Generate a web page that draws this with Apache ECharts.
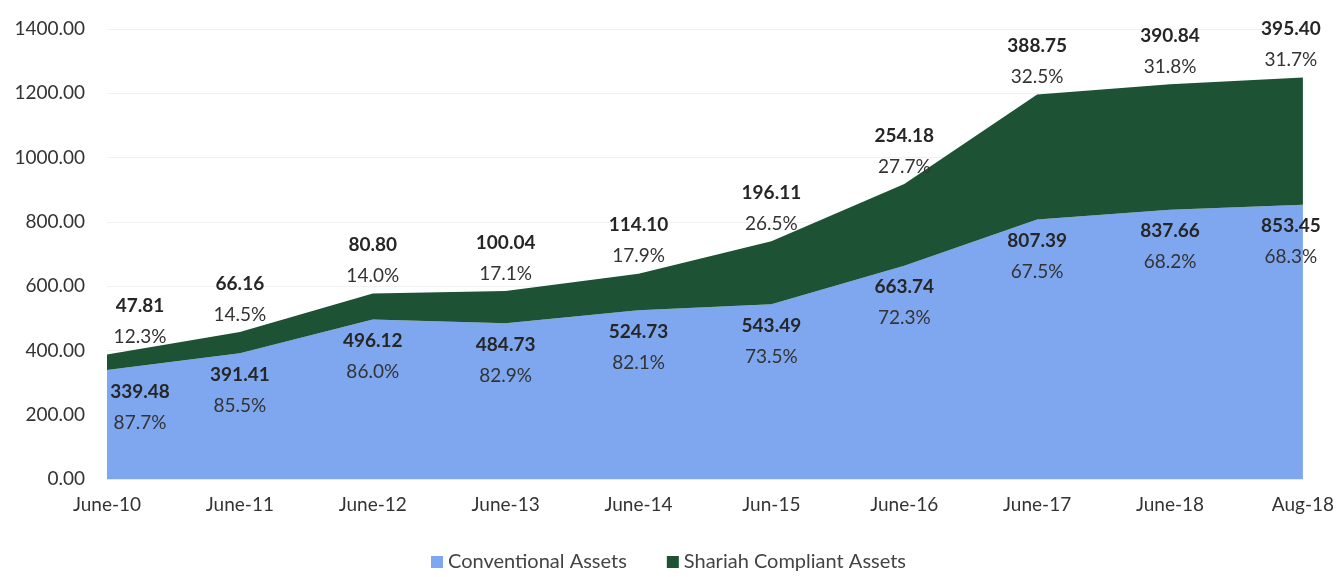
<!DOCTYPE html>
<html>
<head>
<meta charset="utf-8">
<script src="https://cdn.jsdelivr.net/npm/echarts@6/dist/echarts.min.js"></script>
<style>
  html, body { margin: 0; padding: 0; background: #fff; }
  #chart_container { width: 1337px; height: 577px; }
</style>
</head>
<body>
<div id="chart_container"></div>
<script>
// data
const categories = ['June-10', 'June-11', 'June-12', 'June-13', 'June-14', 'Jun-15', 'June-16', 'June-17', 'June-18', 'Aug-18']
const conventional = [339.48, 391.41, 496.12, 484.73, 524.73, 543.49, 663.74, 807.39, 837.66, 853.45]
const shariah = [47.81, 66.16, 80.80, 100.04, 114.10, 196.11, 254.18, 388.75, 390.84, 395.40]
const conventionalPct = ['87.7%', '85.5%', '86.0%', '82.9%', '82.1%', '73.5%', '72.3%', '67.5%', '68.2%', '68.3%']
const shariahPct = ['12.3%', '14.5%', '14.0%', '17.1%', '17.9%', '26.5%', '27.7%', '32.5%', '31.8%', '31.7%']
const yTicks = { min: 0, max: 1400, interval: 200 }

const FONT = 'Lato, "Open Sans", sans-serif'
const BLUE = '#7EA7EF'
const GREEN = '#1D5235'

let rich = {
  v: { fontFamily: FONT, fontWeight: 'bold', fontSize: 19, color: '#262626', lineHeight: 31 },
  p: { fontFamily: FONT, fontSize: 19, color: '#333', lineHeight: 31 },
}

// edge points sit on the plot border, so their labels are nudged inwards
function withEdgeNudge(arr) {
  return arr.map((v, i) => {
    if (i === 0) return { value: v, label: { offset: [33, 0] } }
    if (i === arr.length - 1) return { value: v, label: { offset: [-12, 0] } }
    return v
  })
}

let chartPlot = echarts.init(document.getElementById('chart_container'))
let option = {
  animation: false,
  color: [BLUE, GREEN],
  textStyle: { fontFamily: FONT },
  grid: { left: 107, right: 33, top: 29, bottom: 98 },
  legend: {
    bottom: 0,
    left: 'center',
    itemWidth: 12,
    itemHeight: 12,
    itemGap: 40,
    icon: 'rect',
    textStyle: { fontFamily: FONT, fontSize: 20, color: '#444' },
    data: ['Conventional Assets', 'Shariah Compliant Assets'],
  },
  xAxis: {
    type: 'category',
    data: categories,
    boundaryGap: false,
    axisLine: { lineStyle: { color: '#e6e6e6' } },
    axisTick: { show: false },
    axisLabel: { fontFamily: FONT, fontSize: 19, color: '#333', margin: 16 },
  },
  yAxis: {
    type: 'value',
    min: yTicks.min,
    max: yTicks.max,
    interval: yTicks.interval,
    axisLine: { show: false },
    axisTick: { show: false },
    splitLine: { lineStyle: { color: '#f1f1f1' } },
    axisLabel: {
      fontFamily: FONT,
      fontSize: 19,
      color: '#333',
      margin: 22,
      formatter: v => v.toFixed(2),
    },
  },
  series: [
    {
      name: 'Conventional Assets',
      type: 'line',
      stack: 'total',
      data: withEdgeNudge(conventional),
      symbol: 'circle',
      symbolSize: 0,
      showSymbol: true,
      lineStyle: { width: 0 },
      itemStyle: { color: BLUE },
      areaStyle: { color: BLUE, opacity: 1 },
      label: {
        show: true,
        position: 'bottom',
        distance: 6,
        formatter: p => '{v|' + conventional[p.dataIndex].toFixed(2) + '}\n{p|' + conventionalPct[p.dataIndex] + '}',
        rich: rich,
      },
      z: 2,
    },
    {
      name: 'Shariah Compliant Assets',
      type: 'line',
      stack: 'total',
      data: withEdgeNudge(shariah),
      symbol: 'circle',
      symbolSize: 0,
      showSymbol: true,
      lineStyle: { width: 0 },
      itemStyle: { color: GREEN },
      areaStyle: { color: GREEN, opacity: 1 },
      label: {
        show: true,
        position: 'top',
        distance: 2,
        formatter: p => '{v|' + shariah[p.dataIndex].toFixed(2) + '}\n{p|' + shariahPct[p.dataIndex] + '}',
        rich: rich,
      },
      z: 3,
    },
  ],
}
chartPlot.setOption(option)
</script>
</body>
</html>
